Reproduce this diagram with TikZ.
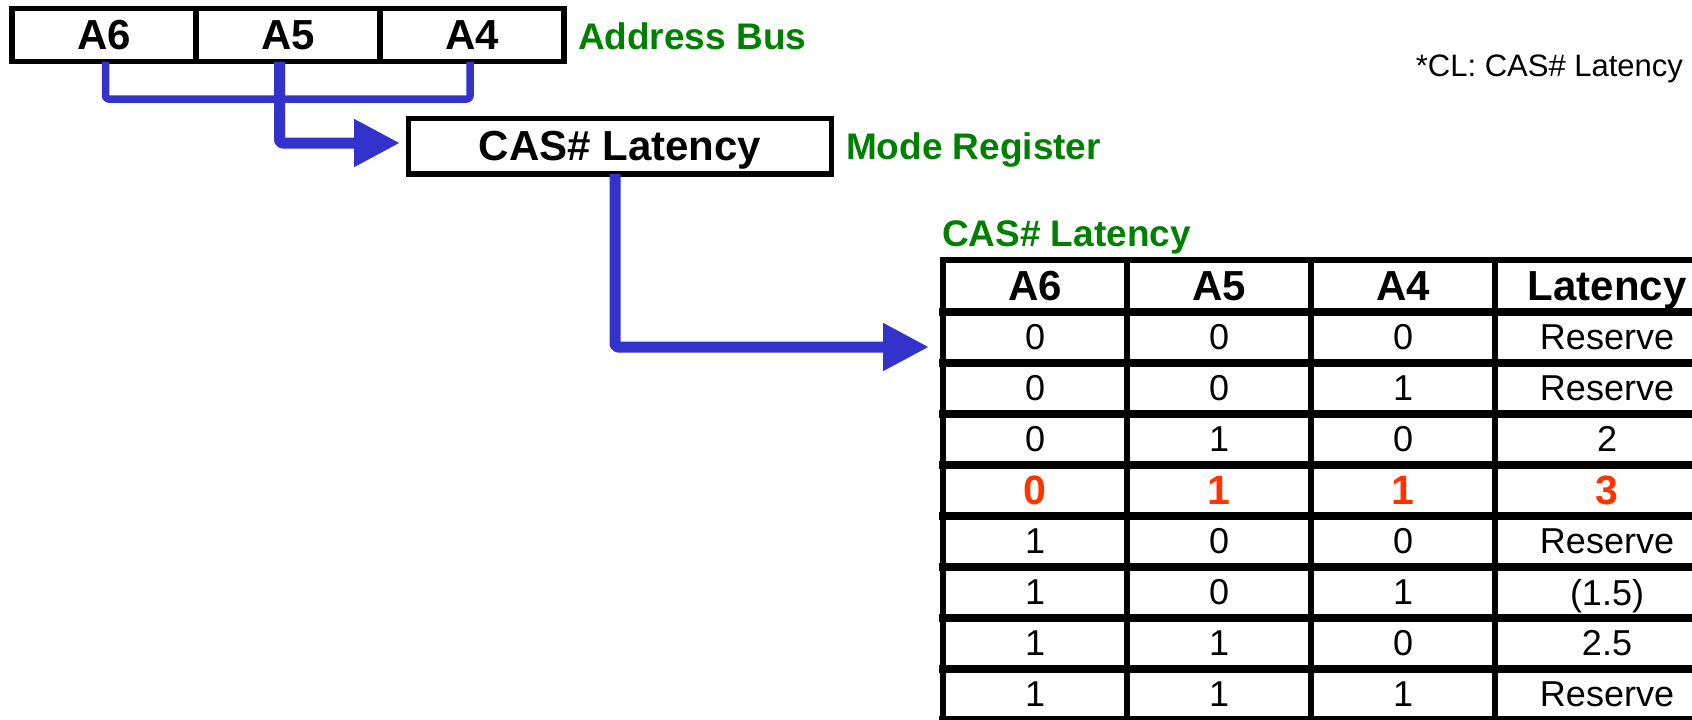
\documentclass[tikz,border=0pt]{standalone}
\usepackage{fontspec}
\setmainfont{Liberation Sans}
\usetikzlibrary{arrows.meta}
\definecolor{busblue}{RGB}{51,51,204}
\definecolor{lblgreen}{RGB}{0,128,0}
\definecolor{hotred}{RGB}{255,51,0}

\begin{document}
\begin{tikzpicture}[x=1pt,y=-1pt,
  every node/.style={inner sep=0pt,outer sep=0pt,text depth=0pt},
  field/.style={draw,line width=5.5pt,minimum width=184pt,minimum height=53pt,
    font=\fontsize{42}{42}\selectfont\bfseries},
  reg/.style={draw,line width=5.5pt,minimum width=423pt,minimum height=55.5pt,
    font=\fontsize{42}{42}\selectfont\bfseries},
  tag/.style={anchor=west,text=lblgreen,font=\fontsize{37}{37}\selectfont\bfseries},
  note/.style={anchor=east,font=\fontsize{31}{31}\selectfont},
  thinbus/.style={draw=busblue,line width=7.5pt,line join=round,rounded corners=3pt},
  thickbus/.style={draw=busblue,line width=11pt,line join=round,rounded corners=3pt,
    -{Triangle[length=46pt 0 0,width=45pt 0 0]}},
  grid/.style={line width=#1,line cap=rect},
  headtxt/.style={font=\fontsize{42}{42}\selectfont\bfseries},
  bodytxt/.style={font=\fontsize{36}{36}\selectfont},
  hottxt/.style={text=hotred,font=\fontsize{41}{41}\selectfont\bfseries}
]
\path[use as bounding box,clip] (0,0) rectangle (1692,720);

% address bus fields
\node[field] (a6) at (104,35) {A6};
\node[field] (a5) at (288,35) {A5};
\node[field] (a4) at (472,35) {A4};
\node[tag] (abus) at (578,36) {Address Bus};

% mode register
\node[reg] (cas) at (620,146) {CAS\# Latency};
\node[tag] (mreg) at (846,146.5) {Mode Register};

\node[note] (cl) at (1683,66) {*CL: CAS\# Latency};

% bus lines
\coordinate (tip1) at (400,143);
\coordinate (tip2) at (929,347);
\draw[thinbus] ([xshift=1.5pt]a6.south) -- ++(0,37.5) -| ([xshift=-2pt]a4.south);
\draw[thickbus] ([xshift=-8.5pt]a5.south) |- (tip1);
\draw[thickbus] ([xshift=-5pt]cas.south) |- (tip2);

% latency table
\node[tag] (ttl) at (942,234) {CAS\# Latency};
\draw[grid=5.5pt] (943,260) -- (1719,260);
\foreach \k in {0,...,8} \draw[grid=8pt] (943,{312+51*\k}) -- (1719,{312+51*\k});
\foreach \x in {943,1127,1311,1495,1719} \draw[grid=6pt] (\x,260) -- (\x,721);

\node[headtxt] (h6) at (1035,286) {A6};
\node[headtxt] (h5) at (1219,286) {A5};
\node[headtxt] (h4) at (1403,286) {A4};
\node[headtxt] (hl) at (1607,286) {Latency};

\foreach \r/\a/\b/\c/\d/\s in {
  1/0/0/0/Reserve/bodytxt,
  2/0/0/1/Reserve/bodytxt,
  3/0/1/0/2/bodytxt,
  4/0/1/1/3/hottxt,
  5/1/0/0/Reserve/bodytxt,
  6/1/0/1/(1.5)/bodytxt,
  7/1/1/0/2.5/bodytxt,
  8/1/1/1/Reserve/bodytxt}{
  \node[\s] (r\r c6) at (1035,{286+51*\r}) {\a};
  \node[\s] (r\r c5) at (1219,{286+51*\r}) {\b};
  \node[\s] (r\r c4) at (1403,{286+51*\r}) {\c};
  \node[\s] (r\r cl) at (1607,{286+51*\r}) {\d};
}
\end{tikzpicture}
\end{document}
